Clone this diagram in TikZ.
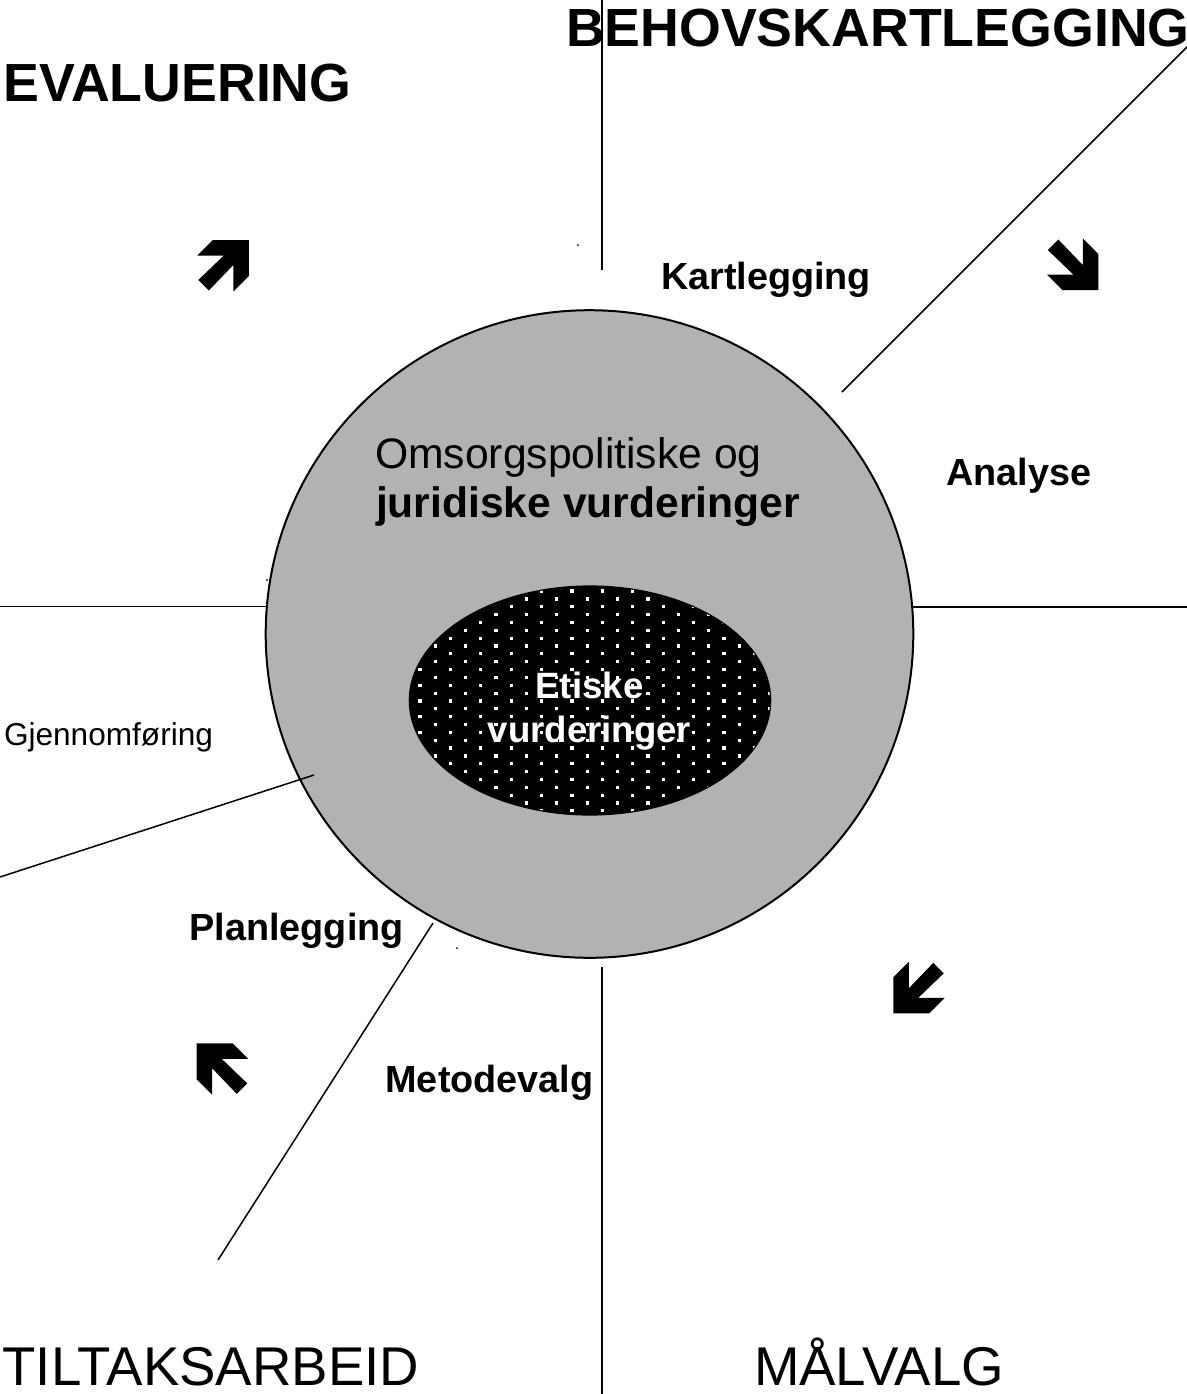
\documentclass[tikz,border=0pt]{standalone}
\usepackage{fontspec}
\setmainfont{Liberation Sans}
\begin{document}
\begin{tikzpicture}[x=0.5pt,y=-0.5pt,
  lbl/.style={inner sep=0pt, outer sep=0pt, anchor=base west},
  ctr/.style={inner sep=0pt, outer sep=0pt, anchor=base},
  titlefont/.style={font=\fontsize{26.85pt}{32pt}\selectfont\bfseries},
  stagefont/.style={font=\fontsize{27.3pt}{32pt}\selectfont},
  stepfont/.style={font=\fontsize{18.9pt}{22pt}\selectfont\bfseries},
  grayfont/.style={font=\fontsize{21.35pt}{25pt}\selectfont},
  inner font/.style={font=\fontsize{18.3pt}{22pt}\selectfont\bfseries, text=white},
  smallfont/.style={font=\fontsize{15.8pt}{19pt}\selectfont},
  thinline/.style={line width=0.75pt, black},
  bigarrow/.pic={\fill[black] (0,-36) -- (-15.5,-51.5) -- (-15.5,-25) -- (-40,-50.5) -- (-50.5,-40) -- (-25,-15.5) -- (-51.5,-15.5) -- (-36,0) -- (0,0) -- cycle;}
]
\useasboundingbox (0,0) rectangle (1187,1394);
\fill[white] (0,0) rectangle (1187,1394);

% coordinates for lines
\coordinate (vt1) at (602,0);
\coordinate (vt2) at (602,270);
\coordinate (vb1) at (602,967);
\coordinate (vb2) at (602,1394);
\coordinate (hl1) at (0,606.7);
\coordinate (hl2) at (267,606.7);
\coordinate (hr1) at (912.5,607);
\coordinate (hr2) at (1187,607);
\coordinate (ne1) at (842,392);
\coordinate (ne2) at (1189,45);
\coordinate (ll1) at (314,775);
\coordinate (ll2) at (0,877);
\coordinate (lb1) at (433,923);
\coordinate (lb2) at (218,1260);
\coordinate (cc) at (589.5,634);
\coordinate (ec) at (590,700.5);

% main circle
\draw[line width=1pt, fill=black!30] (cc) circle [radius=323.8];

% inner ellipse with dot pattern
\begin{scope}
  \clip (ec) ellipse [x radius=180.7, y radius=114.5];
  \fill[black] (ec) ellipse [x radius=180.7, y radius=114.5];
  \foreach \c in {-1,...,24} {
    \pgfmathsetmacro{\xx}{420+15.2*\c}
    \pgfmathsetmacro{\yo}{638.15+7.85*mod(\c+10,2)}
    \foreach \n in {-4,...,12} {
      \fill[white] ({\xx-1.6},{\yo+15.7*\n-1.6}) rectangle ++(3.2,3.2);
    }
  }
\end{scope}
\draw[line width=0.6pt] (ec) ellipse [x radius=180.7, y radius=114.5];

% lines
\draw[thinline] (vt1) -- (vt2);
\draw[thinline] (vb1) -- (vb2);
\draw[thinline] (hl1) -- (hl2);
\draw[thinline] (hr1) -- (hr2);
\draw[thinline] (ne1) -- (ne2);
\draw[thinline] (ll1) -- (ll2);
\draw[thinline] (lb1) -- (lb2);

% tiny dots
\fill (578,245) circle [radius=1];
\fill (267,580) circle [radius=1];
\fill (457,948) circle [radius=1];

% arrows
\pic at (1098.3,290) {bigarrow};
\pic[yscale=-1] at (248.8,240) {bigarrow};
\pic[xscale=-1] at (893.3,1013.3) {bigarrow};
\pic[xscale=-1,yscale=-1] at (196.7,1043.3) {bigarrow};

% texts
\node[lbl, titlefont] (evaluering) at (3.4,101.7) {EVALUERING};
\node[lbl, titlefont] (behov) at (566,46) {BEHOVSKARTLEGGING};
\node[lbl, stepfont] (kart) at (661,289) {Kartlegging};
\node[lbl, stepfont] (analyse) at (946.5,485.5) {Analyse};
\node[lbl, grayfont] (omsorg) at (375,468) {Omsorgspolitiske og};
\node[lbl, grayfont, font=\fontsize{21.3pt}{25pt}\selectfont\bfseries] (jur) at (376,517) {juridiske vurderinger};
\node[ctr, inner font] (etiske) at (589.5,698) {Etiske};
\node[ctr, inner font] (vurd) at (589.5,742) {vurderinger};
\node[lbl, smallfont] (gjen) at (4,745) {Gjennomføring};
\node[lbl, stepfont] (plan) at (189.5,940) {Planlegging};
\node[lbl, stepfont] (metode) at (385.5,1092.5) {Metodevalg};
\node[lbl, stagefont] (tiltak) at (2.5,1385) {TILTAKSARBEID};
\node[lbl, stagefont] (malvalg) at (754,1385) {MÅLVALG};
\end{tikzpicture}
\end{document}
